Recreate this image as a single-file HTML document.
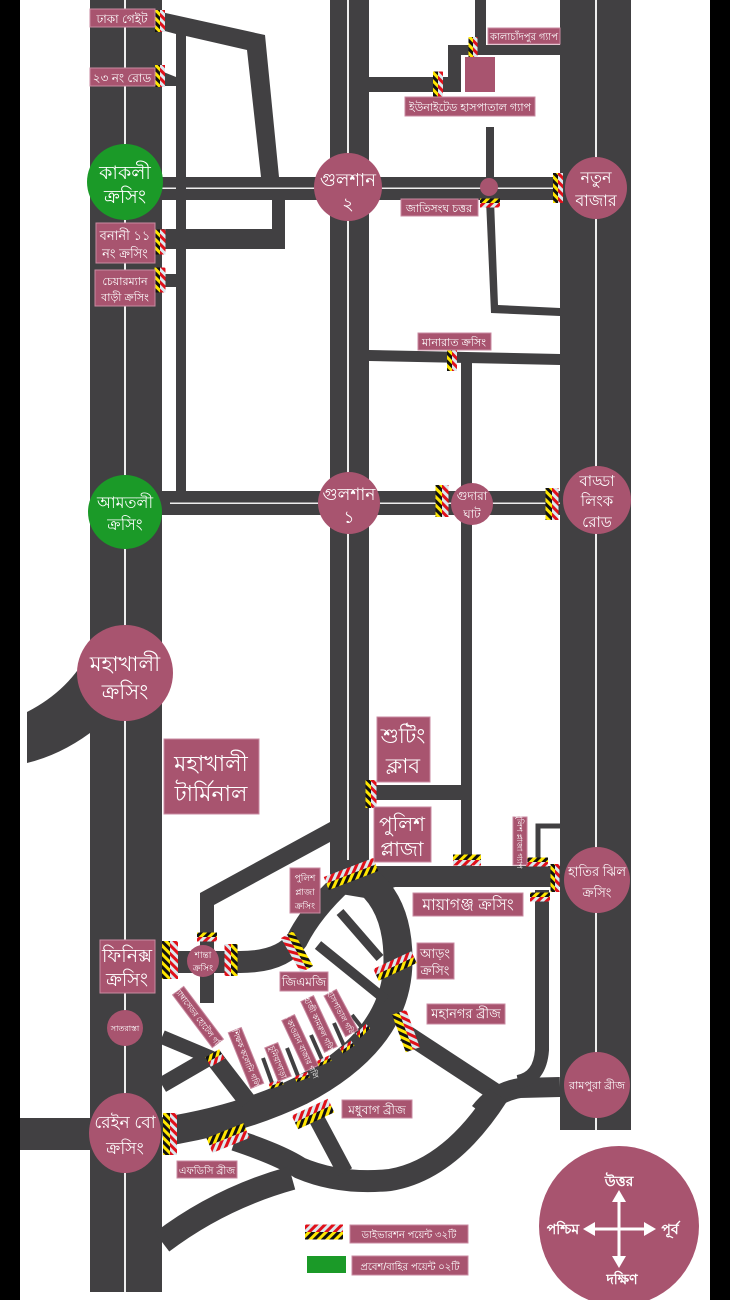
<!DOCTYPE html>
<html><head><meta charset="utf-8"><style>
html,body{margin:0;padding:0;background:#fff;}
svg{display:block;font-family:"Liberation Sans","Noto Sans CJK SC",sans-serif;}
.r{fill:#414042;}
.s{fill:none;stroke:#414042;}
.lb{fill:#a8546f;stroke:#c98aa0;stroke-width:1;}
.t{fill:#fff;text-anchor:middle;}
</style></head><body>
<svg width="730" height="1300" viewBox="0 0 730 1300" xmlns="http://www.w3.org/2000/svg">
<defs>
<pattern id="yb" width="6" height="6" patternUnits="userSpaceOnUse" patternTransform="rotate(45)"><rect width="6" height="6" fill="#111"/><rect width="3" height="6" fill="#ffe600"/></pattern>
<pattern id="rw" width="6" height="6" patternUnits="userSpaceOnUse" patternTransform="rotate(45)"><rect width="6" height="6" fill="#dbe9ef"/><rect width="3" height="6" fill="#e0101a"/></pattern>
</defs>
<rect width="730" height="1300" fill="#fff"/>
<rect x="0" y="0" width="20" height="1300" fill="#000"/>
<rect x="710" y="0" width="20" height="1300" fill="#000"/>

<!-- main vertical roads -->
<rect class="r" x="90" y="0" width="72" height="1292"/>
<rect x="124" y="0" width="2" height="1292" fill="#eee"/>
<rect class="r" x="330" y="0" width="39" height="875"/>
<rect x="347" y="0" width="2" height="870" fill="#eee"/>
<rect class="r" x="560" y="0" width="71" height="1130"/>
<rect x="595" y="0" width="2" height="1130" fill="#eee"/>

<!-- horizontal roads -->
<rect class="r" x="162" y="177" width="398" height="23"/>
<rect x="162" y="187.5" width="398" height="1.5" fill="#eee"/>
<rect class="r" x="162" y="491" width="398" height="24"/>
<rect x="170" y="502.5" width="390" height="1.5" fill="#eee"/>

<!-- top left -->
<polygon class="r" points="161,12 265,35 279,177 261,177 247,50 186,36 186,491 176,491 176,34 161,30"/>
<polygon class="r" points="161,71 176,77 176,86 161,86"/>
<rect class="r" x="162" y="229" width="123" height="20"/>
<rect class="r" x="272" y="199" width="13" height="50"/>
<rect class="r" x="162" y="274" width="14" height="13"/>

<!-- top right -->
<rect class="r" x="475" y="0" width="11" height="55"/>
<rect class="r" x="448" y="45" width="112" height="10"/>
<rect class="r" x="448" y="45" width="13" height="47"/>
<rect class="r" x="369" y="77" width="92" height="15"/>
<rect x="465" y="57" width="30" height="35" fill="#a8546f"/>
<rect class="r" x="486" y="127" width="8" height="51"/>
<polygon class="r" points="486,200 494,200 498,305 560,308 560,316 491,313"/>
<polygon class="r" points="369,350 560,354 560,365 369,361"/>
<rect class="r" x="461" y="361" width="11" height="505"/>
<rect class="r" x="369" y="785" width="92" height="15"/>
<path class="s" d="M560,826 L538,826 L538,866" stroke-width="5"/>

<!-- mohakhali left curve -->
<path class="r" d="M27,712 Q70,690 90,650 L90,733 Q60,755 27,763 Z"/>
<rect class="r" x="20" y="1118" width="70" height="32"/>

<!-- diagonal from center to shanta -->
<polygon class="r" points="200,1003 200,893 330,822 330,842 214,905 214,1003"/>

<!-- plaza junction -->
<polygon class="r" points="330,860 369,860 369,866 560,866 560,887 395,887 365,898 335,893"/>
<path class="s" stroke-width="22" d="M345,880 Q312,910 297,940 Q282,962 240,962 L162,962"/>
<path class="s" stroke-width="29" d="M360,876 Q398,900 398,960 Q398,1040 300,1091 Q240,1120 162,1132"/>
<path class="s" stroke-width="9" d="M340,912 L380,958"/>
<path class="s" stroke-width="10" d="M318,945 L386,1000"/>
<!-- east side -->
<path class="s" stroke-width="18" d="M405,1033 L495,1092"/>
<path class="s" stroke-width="20" d="M560,1087 L520,1088 Q495,1092 480,1112"/>
<path class="s" stroke-width="14" d="M542,890 L542,1050 Q540,1078 518,1082"/>
<path class="s" stroke-width="22" d="M235,1140 Q280,1155 300,1168 Q340,1185 390,1180 Q450,1170 498,1095"/>
<path class="s" stroke-width="16" d="M313,1112 L345,1172"/>
<path class="s" stroke-width="24" d="M292,1178 Q220,1198 162,1242"/>
<!-- sat rasta -->
<path class="s" stroke-width="14" d="M162,1037 L212,1058"/>
<path class="s" stroke-width="16" d="M162,1085 L212,1056"/>
<path class="s" stroke-width="18" d="M214,1058 L248,1102"/>
<!-- gali lines -->
<g stroke="#414042" stroke-width="4">
<line x1="263" y1="1058" x2="272" y2="1083"/>
<line x1="287" y1="1048" x2="298" y2="1076"/>
<line x1="311" y1="1035" x2="323" y2="1062"/>
<line x1="334" y1="1023" x2="345" y2="1048"/>
<line x1="352" y1="1015" x2="363" y2="1029"/>
</g>

<!-- barriers -->
<g>
<g transform="translate(160 21) rotate(90)"><rect x="-11" y="-5" width="22" height="5" fill="url(#rw)"/><rect x="-11" y="0" width="22" height="5" fill="url(#yb)"/></g>
<g transform="translate(160 76) rotate(90)"><rect x="-11" y="-5" width="22" height="5" fill="url(#rw)"/><rect x="-11" y="0" width="22" height="5" fill="url(#yb)"/></g>
<g transform="translate(160 242) rotate(90)"><rect x="-12.5" y="-5.5" width="25" height="5.5" fill="url(#rw)"/><rect x="-12.5" y="0" width="25" height="5.5" fill="url(#yb)"/></g>
<g transform="translate(160 280) rotate(90)"><rect x="-12.5" y="-5.5" width="25" height="5.5" fill="url(#rw)"/><rect x="-12.5" y="0" width="25" height="5.5" fill="url(#yb)"/></g>
<g transform="translate(473 47) rotate(90)"><rect x="-10" y="-4.5" width="20" height="4.5" fill="url(#rw)"/><rect x="-10" y="0" width="20" height="4.5" fill="url(#yb)"/></g>
<g transform="translate(438 84) rotate(90)"><rect x="-12.5" y="-5" width="25" height="5" fill="url(#rw)"/><rect x="-12.5" y="0" width="25" height="5" fill="url(#yb)"/></g>
<g transform="translate(490 203)"><rect x="-10" y="-4.5" width="20" height="4.5" fill="url(#yb)"/><rect x="-10" y="0" width="20" height="4.5" fill="url(#rw)"/></g>
<g transform="translate(558 188) rotate(90)"><rect x="-15" y="-5" width="30" height="5" fill="url(#rw)"/><rect x="-15" y="0" width="30" height="5" fill="url(#yb)"/></g>
<g transform="translate(452 360) rotate(90)"><rect x="-11" y="-5" width="22" height="5" fill="url(#rw)"/><rect x="-11" y="0" width="22" height="5" fill="url(#yb)"/></g>
<g transform="translate(442 501) rotate(90)"><rect x="-16" y="-6.5" width="32" height="6.5" fill="url(#rw)"/><rect x="-16" y="0" width="32" height="6.5" fill="url(#yb)"/></g>
<g transform="translate(552 504) rotate(90)"><rect x="-16" y="-6.5" width="32" height="6.5" fill="url(#rw)"/><rect x="-16" y="0" width="32" height="6.5" fill="url(#yb)"/></g>
<g transform="translate(371 794) rotate(90)"><rect x="-14" y="-5.5" width="28" height="5.5" fill="url(#rw)"/><rect x="-14" y="0" width="28" height="5.5" fill="url(#yb)"/></g>
<g transform="translate(467 860)"><rect x="-14" y="-5.5" width="28" height="5.5" fill="url(#yb)"/><rect x="-14" y="0" width="28" height="5.5" fill="url(#rw)"/></g>
<g transform="translate(537 862)"><rect x="-11" y="-4.5" width="22" height="4.5" fill="url(#yb)"/><rect x="-11" y="0" width="22" height="4.5" fill="url(#rw)"/></g>
<g transform="translate(555 878) rotate(90)"><rect x="-14" y="-4.5" width="28" height="4.5" fill="url(#rw)"/><rect x="-14" y="0" width="28" height="4.5" fill="url(#yb)"/></g>
<g transform="translate(540 897)"><rect x="-10" y="-4.5" width="20" height="4.5" fill="url(#yb)"/><rect x="-10" y="0" width="20" height="4.5" fill="url(#rw)"/></g>
<g transform="translate(351 874) rotate(-21)"><rect x="-26.5" y="-7" width="53" height="7" fill="url(#rw)"/><rect x="-26.5" y="0" width="53" height="7" fill="url(#yb)"/></g>
<g transform="translate(170 960) rotate(90)"><rect x="-19" y="-8" width="38" height="8" fill="url(#rw)"/><rect x="-19" y="0" width="38" height="8" fill="url(#yb)"/></g>
<g transform="translate(207 937)"><rect x="-10" y="-4.5" width="20" height="4.5" fill="url(#yb)"/><rect x="-10" y="0" width="20" height="4.5" fill="url(#rw)"/></g>
<g transform="translate(231 960) rotate(90)"><rect x="-16" y="-6.5" width="32" height="6.5" fill="url(#yb)"/><rect x="-16" y="0" width="32" height="6.5" fill="url(#rw)"/></g>
<g transform="translate(297 952) rotate(60)"><rect x="-20" y="-7" width="40" height="7" fill="url(#yb)"/><rect x="-20" y="0" width="40" height="7" fill="url(#rw)"/></g>
<g transform="translate(395 966) rotate(-25)"><rect x="-21" y="-6.5" width="42" height="6.5" fill="url(#rw)"/><rect x="-21" y="0" width="42" height="6.5" fill="url(#yb)"/></g>
<g transform="translate(406 1031) rotate(70)"><rect x="-20" y="-7.5" width="40" height="7.5" fill="url(#rw)"/><rect x="-20" y="0" width="40" height="7.5" fill="url(#yb)"/></g>
<g transform="translate(313 1114) rotate(-25)"><rect x="-20" y="-7.5" width="40" height="7.5" fill="url(#rw)"/><rect x="-20" y="0" width="40" height="7.5" fill="url(#yb)"/></g>
<g transform="translate(228 1138) rotate(-22)"><rect x="-20" y="-8" width="40" height="8" fill="url(#yb)"/><rect x="-20" y="0" width="40" height="8" fill="url(#rw)"/></g>
<g transform="translate(170 1134) rotate(90)"><rect x="-21" y="-7" width="42" height="7" fill="url(#rw)"/><rect x="-21" y="0" width="42" height="7" fill="url(#yb)"/></g>
<g transform="translate(215 1058) rotate(-30)"><rect x="-8" y="-5.5" width="16" height="5.5" fill="url(#yb)"/><rect x="-8" y="0" width="16" height="5.5" fill="url(#rw)"/></g>
<g transform="translate(276 1084) rotate(-20)"><rect x="-7" y="-3" width="14" height="3" fill="url(#rw)"/><rect x="-7" y="0" width="14" height="3" fill="url(#yb)"/></g>
<g transform="translate(302 1077) rotate(-20)"><rect x="-7" y="-3" width="14" height="3" fill="url(#rw)"/><rect x="-7" y="0" width="14" height="3" fill="url(#yb)"/></g>
<g transform="translate(324 1061) rotate(-25)"><rect x="-7" y="-3" width="14" height="3" fill="url(#rw)"/><rect x="-7" y="0" width="14" height="3" fill="url(#yb)"/></g>
<g transform="translate(347 1047) rotate(-35)"><rect x="-7" y="-3" width="14" height="3" fill="url(#rw)"/><rect x="-7" y="0" width="14" height="3" fill="url(#yb)"/></g>
<g transform="translate(363 1031) rotate(-45)"><rect x="-7" y="-3" width="14" height="3" fill="url(#rw)"/><rect x="-7" y="0" width="14" height="3" fill="url(#yb)"/></g>
</g>

<!-- circles -->
<circle cx="489" cy="187" r="9" fill="#a8546f"/>
<circle cx="125" cy="182" r="38" fill="#1b9a28"/>
<text class="t" x="125" y="179" font-size="19">কাকলী</text><text class="t" x="125" y="203" font-size="19">ক্রসিং</text>
<circle cx="348" cy="187" r="34" fill="#a8546f"/>
<text class="t" x="348" y="186" font-size="18">গুলশান</text><text class="t" x="348" y="210" font-size="18">২</text>
<circle cx="596" cy="188" r="31" fill="#a8546f"/>
<text class="t" x="596" y="183" font-size="16">নতুন</text><text class="t" x="596" y="206" font-size="16">বাজার</text>
<circle cx="125" cy="512" r="37" fill="#1b9a28"/>
<text class="t" x="125" y="508" font-size="16">আমতলী</text><text class="t" x="125" y="530" font-size="16">ক্রসিং</text>
<circle cx="349" cy="503" r="31" fill="#a8546f"/>
<text class="t" x="349" y="500" font-size="17">গুলশান</text><text class="t" x="349" y="523" font-size="17">১</text>
<circle cx="472" cy="504" r="21" fill="#a8546f"/>
<text class="t" x="472" y="500" font-size="12">গুদারা</text><text class="t" x="472" y="518" font-size="12">ঘাট</text>
<circle cx="597" cy="500" r="34" fill="#a8546f"/>
<text class="t" x="597" y="486" font-size="15">বাড্ডা</text><text class="t" x="597" y="506" font-size="15">লিংক</text><text class="t" x="597" y="527" font-size="15">রোড</text>
<circle cx="125" cy="673" r="48" fill="#a8546f"/>
<text class="t" x="125" y="671" font-size="21">মহাখালী</text><text class="t" x="125" y="699" font-size="21">ক্রসিং</text>
<circle cx="203" cy="961" r="16" fill="#a8546f"/>
<text class="t" x="203" y="958" font-size="9">শান্তা</text><text class="t" x="203" y="971" font-size="9">ক্রসিং</text>
<circle cx="125" cy="1028" r="18" fill="#a8546f"/>
<text class="t" x="125" y="1031" font-size="8">সাতরাস্তা</text>
<ellipse cx="125" cy="1133" rx="36" ry="40" fill="#a8546f"/>
<text class="t" x="125" y="1128" font-size="17">রেইন বো</text><text class="t" x="125" y="1154" font-size="17">ক্রসিং</text>
<circle cx="597" cy="880" r="33" fill="#a8546f"/>
<text class="t" x="597" y="876" font-size="13">হাতির ঝিল</text><text class="t" x="597" y="897" font-size="13">ক্রসিং</text>
<circle cx="597" cy="1085" r="33" fill="#a8546f"/>
<text class="t" x="597" y="1089" font-size="11">রামপুরা ব্রীজ</text>

<!-- labels -->
<rect class="lb" x="90" y="9" width="65" height="18"/><text class="t" x="122" y="23" font-size="12">ঢাকা গেইট</text>
<rect class="lb" x="90" y="68" width="65" height="18"/><text class="t" x="122" y="82" font-size="12">২৩ নং রোড</text>
<rect class="lb" x="96" y="223" width="59" height="40"/><text class="t" x="125" y="240" font-size="13">বনানী ১১</text><text class="t" x="125" y="258" font-size="13">নং ক্রসিং</text>
<rect class="lb" x="95" y="270" width="60" height="36"/><text class="t" x="125" y="285" font-size="11">চেয়ারম্যান</text><text class="t" x="125" y="301" font-size="11">বাড়ী ক্রসিং</text>
<rect class="lb" x="488" y="28" width="72" height="16"/><text class="t" x="524" y="40" font-size="10">কালাচাঁদপুর গ্যাপ</text>
<rect class="lb" x="405" y="97" width="130" height="19"/><text class="t" x="470" y="111" font-size="11">ইউনাইটেড হাসপাতাল গ্যাপ</text>
<rect class="lb" x="401" y="199" width="77" height="17"/><text class="t" x="439" y="212" font-size="11">জাতিসংঘ চত্তর</text>
<rect class="lb" x="418" y="333" width="73" height="17"/><text class="t" x="454" y="346" font-size="11">মানারাত ক্রসিং</text>
<rect class="lb" x="164" y="739" width="95" height="75"/><text class="t" x="211" y="771" font-size="22">মহাখালী</text><text class="t" x="211" y="801" font-size="22">টার্মিনাল</text>
<rect class="lb" x="377" y="717" width="53" height="65"/><text class="t" x="403" y="743" font-size="21">শুটিং</text><text class="t" x="403" y="773" font-size="21">ক্লাব</text>
<rect class="lb" x="374" y="807" width="57" height="55"/><text class="t" x="402" y="831" font-size="20">পুলিশ</text><text class="t" x="402" y="856" font-size="20">প্লাজা</text>
<rect class="lb" x="290" y="868" width="30" height="45"/><text class="t" x="305" y="881" font-size="9">পুলিশ</text><text class="t" x="305" y="895" font-size="9">প্লাজা</text><text class="t" x="305" y="909" font-size="9">ক্রসিং</text>
<rect class="lb" x="280" y="972" width="48" height="19"/><text class="t" x="304" y="986" font-size="12">জিএমজি</text>
<rect class="lb" x="417" y="943" width="37" height="36"/><text class="t" x="435" y="958" font-size="13">আড়ং</text><text class="t" x="435" y="975" font-size="13">ক্রসিং</text>
<rect class="lb" x="413" y="893" width="110" height="23"/><text class="t" x="468" y="910" font-size="16">মায়াগঞ্জ ক্রসিং</text>
<rect class="lb" x="427" y="1004" width="78" height="20"/><text class="t" x="466" y="1018" font-size="13">মহানগর ব্রীজ</text>
<rect class="lb" x="342" y="1100" width="70" height="18"/><text class="t" x="377" y="1114" font-size="12">মধুবাগ ব্রীজ</text>
<rect class="lb" x="177" y="1161" width="60" height="17"/><text class="t" x="207" y="1174" font-size="10">এফডিসি ব্রীজ</text>
<rect class="lb" x="100" y="940" width="55" height="53"/><text class="t" x="127" y="962" font-size="19">ফিনিক্স</text><text class="t" x="127" y="986" font-size="19">ক্রসিং</text>
<g transform="translate(520 841) rotate(90)"><rect class="lb" x="-24" y="-7" width="48" height="14"/><text class="t" x="0" y="3" font-size="8">পুলিশ প্লাজা গ্যাপ</text></g>
<!-- rotated gali labels -->
<g transform="translate(198 1017) rotate(53)"><rect class="lb" x="-33" y="-7" width="66" height="14"/><text class="t" x="0" y="3" font-size="8">অ্যাম্বাসেডর হোটেল গলি</text></g>
<g transform="translate(246 1058) rotate(68)"><rect class="lb" x="-30" y="-7" width="60" height="14"/><text class="t" x="0" y="3" font-size="8">শিক্ষক কলোনি গলি</text></g>
<g transform="translate(278 1062) rotate(68)"><rect class="lb" x="-18" y="-7" width="36" height="14"/><text class="t" x="0" y="3" font-size="8">চুনিয়াপাড়া</text></g>
<g transform="translate(300 1043) rotate(65)"><rect class="lb" x="-28" y="-7" width="56" height="14"/><text class="t" x="0" y="3" font-size="8">মধ্য কাওরান বাজার গলি</text></g>
<g transform="translate(319 1024) rotate(65)"><rect class="lb" x="-28" y="-7" width="56" height="14"/><text class="t" x="0" y="3" font-size="8">হাজী কামরুল গলি</text></g>
<g transform="translate(341 1013) rotate(62)"><rect class="lb" x="-23" y="-7" width="46" height="14"/><text class="t" x="0" y="3" font-size="8">হাসপাতাল গলি</text></g>

<!-- legend -->
<g transform="translate(324 1232)"><rect x="-19" y="-7.5" width="38" height="7.5" fill="url(#rw)"/><rect x="-19" y="0" width="38" height="7.5" fill="url(#yb)"/></g>
<rect class="lb" x="350" y="1225" width="118" height="18"/><text class="t" x="409" y="1238" font-size="10">ডাইভারশন পয়েন্ট ৩২টি</text>
<rect x="307" y="1256" width="39" height="17" fill="#1b9a28"/>
<rect class="lb" x="352" y="1256" width="116" height="19"/><text class="t" x="410" y="1270" font-size="10">প্রবেশ/বাহির পয়েন্ট ০২টি</text>

<!-- compass -->
<circle cx="619" cy="1226" r="80" fill="#a8546f"/>
<g stroke="#fff" stroke-width="3">
<line x1="619" y1="1196" x2="619" y2="1262"/>
<line x1="590" y1="1229" x2="650" y2="1229"/>
</g>
<g fill="#fff">
<polygon points="619,1190 612,1202 626,1202"/>
<polygon points="619,1268 612,1256 626,1256"/>
<polygon points="583,1229 595,1222 595,1236"/>
<polygon points="656,1229 644,1222 644,1236"/>
</g>
<text class="t" x="619" y="1186" font-size="14" font-weight="bold">উত্তর</text>
<text class="t" x="563" y="1234" font-size="14" font-weight="bold">পশ্চিম</text>
<text class="t" x="670" y="1234" font-size="14" font-weight="bold">পূর্ব</text>
<text class="t" x="622" y="1284" font-size="14" font-weight="bold">দক্ষিণ</text>
</svg>
</body></html>
